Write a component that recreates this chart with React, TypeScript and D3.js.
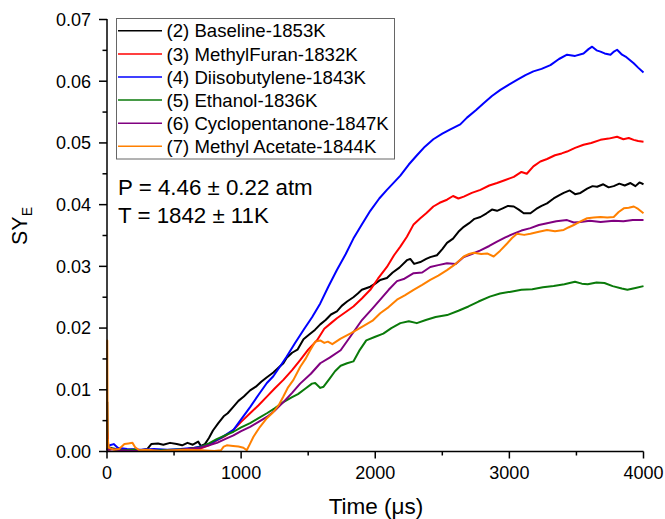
import React from "react";
import * as d3 from "d3";

type Pt = [number, number];

const seriesNames = [
  "(2) Baseline-1853K",
  "(3) MethylFuran-1832K",
  "(4) Diisobutylene-1843K",
  "(5) Ethanol-1836K",
  "(6) Cyclopentanone-1847K",
  "(7) Methyl Acetate-1844K",
];
const seriesColors = ["#000000", "#ff0000", "#0000ff", "#0a7a0a", "#800080", "#ff8000"];

const baseline: Pt[] = [[0,0.0003],[2,0.008],[6,0.0005],[30,0.0006],[60,0.0003],[100,0.0004],[150,0.0002],[200,0.0003],[250,0.0002],[300,0.0004],[330,0.0012],[380,0.0013],[420,0.0011],[470,0.0014],[520,0.0012],[560,0.0010],[600,0.0014],[640,0.0011],[680,0.0016],[700,0.0009],[730,0.0012],[760,0.0022],[790,0.0034],[830,0.0046],[870,0.0057],[900,0.0062],[940,0.0072],[980,0.0082],[1020,0.0089],[1067,0.0099],[1110,0.0105],[1150,0.0113],[1190,0.0120],[1240,0.0128],[1280,0.0136],[1315,0.0143],[1340,0.0152],[1380,0.0160],[1420,0.0165],[1465,0.0182],[1510,0.0190],[1550,0.0197],[1590,0.0206],[1630,0.0213],[1670,0.0222],[1714,0.0227],[1750,0.0236],[1790,0.0243],[1837,0.0250],[1870,0.0256],[1900,0.0262],[1963,0.0267],[2000,0.0272],[2037,0.0278],[2087,0.0281],[2130,0.0290],[2180,0.0298],[2236,0.0310],[2261,0.0312],[2290,0.0304],[2336,0.0307],[2380,0.0312],[2410,0.0315],[2460,0.0318],[2500,0.0328],[2535,0.0338],[2580,0.0345],[2620,0.0356],[2660,0.0364],[2700,0.0370],[2740,0.0377],[2784,0.0380],[2830,0.0386],[2870,0.0392],[2908,0.0390],[2950,0.0394],[2990,0.0398],[3033,0.0397],[3070,0.0392],[3107,0.0386],[3157,0.0386],[3200,0.0393],[3240,0.0398],[3281,0.0402],[3330,0.0410],[3370,0.0415],[3405,0.0419],[3450,0.0423],[3490,0.0417],[3530,0.0419],[3580,0.0426],[3620,0.0430],[3654,0.0429],[3700,0.0433],[3740,0.0428],[3778,0.0430],[3820,0.0434],[3860,0.0431],[3903,0.0435],[3940,0.0430],[3970,0.0436],[4000,0.0433]];

const methylFuran: Pt[] = [[0,0.0005],[3,0.003],[8,0.0003],[50,0.0004],[100,0.0002],[200,0.0003],[300,0.0001],[400,0.0002],[500,0.0001],[600,0.0003],[700,0.0005],[760,0.0010],[818,0.0018],[880,0.0025],[943,0.0035],[1000,0.0048],[1067,0.0062],[1130,0.0075],[1192,0.0089],[1250,0.0102],[1315,0.0116],[1380,0.0132],[1440,0.0148],[1500,0.0165],[1565,0.0180],[1620,0.0199],[1670,0.0208],[1714,0.0216],[1780,0.0226],[1837,0.0235],[1900,0.0248],[1963,0.0262],[2020,0.0280],[2087,0.0299],[2140,0.0318],[2187,0.0332],[2236,0.0348],[2286,0.0368],[2336,0.0378],[2380,0.0386],[2433,0.0397],[2480,0.0403],[2535,0.0408],[2580,0.0414],[2620,0.0410],[2660,0.0413],[2720,0.0419],[2784,0.0424],[2850,0.0431],[2908,0.0435],[2970,0.0440],[3033,0.0445],[3090,0.0453],[3130,0.0450],[3179,0.0462],[3231,0.0470],[3281,0.0474],[3340,0.0480],[3390,0.0483],[3430,0.0486],[3490,0.0492],[3553,0.0497],[3610,0.0500],[3679,0.0505],[3740,0.0507],[3803,0.0510],[3850,0.0506],[3890,0.0508],[3927,0.0505],[3960,0.0503],[4000,0.0502]];

const diisobutylene: Pt[] = [[0,0.0005],[20,0.001],[50,0.0012],[80,0.0006],[150,0.0004],[250,0.0003],[350,0.0004],[450,0.0003],[550,0.0004],[650,0.0006],[720,0.0009],[769,0.0013],[850,0.0022],[943,0.0035],[1000,0.0052],[1067,0.0072],[1130,0.0092],[1192,0.0111],[1240,0.0122],[1300,0.0141],[1340,0.0154],[1400,0.0175],[1465,0.0197],[1530,0.0218],[1590,0.0240],[1650,0.0267],[1714,0.0294],[1780,0.0320],[1837,0.0345],[1900,0.0368],[1963,0.0390],[2030,0.0410],[2087,0.0424],[2140,0.0436],[2187,0.0447],[2250,0.0465],[2311,0.0480],[2370,0.0494],[2433,0.0506],[2500,0.0515],[2560,0.0522],[2634,0.0530],[2684,0.0541],[2750,0.0553],[2806,0.0564],[2870,0.0576],[2933,0.0586],[3000,0.0595],[3057,0.0602],[3120,0.0610],[3179,0.0616],[3240,0.0620],[3306,0.0626],[3370,0.0636],[3430,0.0643],[3490,0.0641],[3553,0.0645],[3590,0.0652],[3617,0.0656],[3650,0.0650],[3679,0.0648],[3710,0.0645],[3754,0.0643],[3780,0.0648],[3803,0.0651],[3840,0.0643],[3866,0.0640],[3900,0.0634],[3927,0.0629],[3960,0.0622],[4000,0.0614]];

const ethanol: Pt[] = [[0,0.0003],[50,0.0005],[100,0.0002],[200,0.0003],[300,0.0001],[400,0.0002],[500,0.0003],[600,0.0004],[694,0.0007],[760,0.0013],[818,0.0020],[880,0.0026],[943,0.0032],[1000,0.0039],[1067,0.0046],[1130,0.0054],[1192,0.0062],[1250,0.0070],[1315,0.0080],[1380,0.0088],[1424,0.0093],[1480,0.0102],[1528,0.0110],[1552,0.0111],[1590,0.0103],[1615,0.0105],[1660,0.0118],[1700,0.0130],[1742,0.0139],[1790,0.0143],[1837,0.0146],[1880,0.0163],[1933,0.0180],[2000,0.0186],[2060,0.0191],[2120,0.0200],[2187,0.0208],[2250,0.0211],[2310,0.0208],[2377,0.0213],[2450,0.0218],[2536,0.0221],[2620,0.0228],[2695,0.0235],[2770,0.0243],[2854,0.0251],[2930,0.0256],[3012,0.0259],[3090,0.0262],[3171,0.0263],[3250,0.0266],[3330,0.0268],[3410,0.0271],[3489,0.0275],[3540,0.0272],[3584,0.0271],[3650,0.0274],[3709,0.0273],[3770,0.0268],[3838,0.0264],[3880,0.0262],[3940,0.0265],[4000,0.0268]];

const cyclopentanone: Pt[] = [[0,0.0003],[50,0.0004],[100,0.0002],[200,0.0001],[300,0.0002],[400,0.0001],[500,0.0002],[600,0.0004],[694,0.0006],[760,0.0010],[820,0.0014],[880,0.0020],[943,0.0026],[1000,0.0033],[1067,0.0040],[1130,0.0048],[1192,0.0056],[1250,0.0066],[1315,0.0080],[1380,0.0095],[1440,0.0110],[1520,0.0126],[1590,0.0143],[1660,0.0152],[1742,0.0164],[1820,0.0188],[1901,0.0213],[1980,0.0232],[2037,0.0246],[2100,0.0262],[2162,0.0276],[2218,0.0280],[2286,0.0289],[2350,0.0290],[2410,0.0299],[2470,0.0302],[2535,0.0305],[2600,0.0304],[2660,0.0315],[2720,0.0320],[2784,0.0326],[2850,0.0333],[2908,0.0340],[2970,0.0347],[3033,0.0353],[3090,0.0358],[3157,0.0362],[3220,0.0367],[3281,0.0370],[3350,0.0373],[3430,0.0375],[3480,0.0371],[3530,0.0372],[3600,0.0374],[3680,0.0372],[3778,0.0374],[3850,0.0373],[3920,0.0375],[4000,0.0375]];

const methylAcetate: Pt[] = [[0,0.0005],[2,0.018],[5,0.002],[15,0.0006],[50,0.0003],[90,0.0004],[130,0.0012],[160,0.0013],[190,0.0014],[210,0.0007],[240,0.0002],[300,0.0003],[400,0.0001],[500,0.0002],[600,0.0003],[700,0.0002],[800,0.0001],[850,0.0002],[870,0.0008],[893,0.0010],[940,0.0009],[980,0.0008],[1017,0.0006],[1042,0.0002],[1065,0.0012],[1092,0.0024],[1141,0.0040],[1192,0.0054],[1241,0.0064],[1280,0.0075],[1315,0.0089],[1350,0.0104],[1390,0.0116],[1440,0.0137],[1480,0.0150],[1515,0.0164],[1552,0.0178],[1590,0.0180],[1620,0.0176],[1647,0.0178],[1680,0.0174],[1742,0.0183],[1820,0.0192],[1901,0.0202],[1980,0.0212],[2037,0.0224],[2100,0.0234],[2162,0.0246],[2220,0.0253],[2286,0.0262],[2350,0.0270],[2410,0.0278],[2470,0.0285],[2535,0.0294],[2600,0.0304],[2660,0.0316],[2700,0.0320],[2734,0.0322],[2790,0.0320],[2834,0.0321],[2883,0.0316],[2930,0.0325],[2983,0.0337],[3020,0.0346],[3057,0.0353],[3110,0.0351],[3157,0.0353],[3220,0.0356],[3281,0.0359],[3340,0.0357],[3405,0.0359],[3440,0.0363],[3480,0.0367],[3530,0.0373],[3580,0.0378],[3630,0.0379],[3679,0.0380],[3730,0.0379],[3778,0.0380],[3815,0.0388],[3853,0.0394],[3890,0.0395],[3928,0.0397],[3960,0.0393],[4000,0.0386]];

const allSeries = [baseline, methylFuran, diisobutylene, ethanol, cyclopentanone, methylAcetate];

const xTicks = [0, 1000, 2000, 3000, 4000];
const xMinorTicks = [500, 1500, 2500, 3500];
const yTicks = [0, 0.01, 0.02, 0.03, 0.04, 0.05, 0.06, 0.07];
const yMinorTicks = [0.005, 0.015, 0.025, 0.035, 0.045, 0.055, 0.065];

const annotations = ["P = 4.46 ± 0.22 atm", "T = 1842 ± 11K"];

const FONT = "Arial, 'Liberation Sans', Helvetica, sans-serif";

export default function App() {
  const W = 665, H = 519;
  const x = d3.scaleLinear().domain([0, 4000]).range([107, 643.5]);
  const y = d3.scaleLinear().domain([0, 0.07]).range([451.5, 19.5]);
  const line = d3.line<Pt>().x(d => x(d[0])).y(d => y(d[1]));
  const x0 = x(0), y0 = y(0);

  return (
    <svg width={W} height={H} style={{ position: "absolute", left: 0, top: 0, background: "#fff" }} fontFamily={FONT}>
      <rect x={0} y={0} width={W} height={H} fill="#fff" />
      {allSeries.map((s, i) => (
        <path key={i} d={line(s) || ""} fill="none" stroke={seriesColors[i]} strokeWidth={2} strokeLinejoin="round" />
      ))}
      <line x1={x0} x2={x0} y1={y(0.07) - 0.5} y2={y0 + 0.75} stroke="#000" strokeWidth={1.5} />
      <line x1={x0 - 0.75} x2={x(4000)} y1={y0} y2={y0} stroke="#000" strokeWidth={1.5} />
      {yTicks.map(t => (
        <g key={"y" + t}>
          <line x1={x0 - 8} x2={x0} y1={y(t)} y2={y(t)} stroke="#000" strokeWidth={1.5} />
          <text x={91} y={y(t)} dy="0.35em" textAnchor="end" fontSize={18} fill="#000">{t.toFixed(2)}</text>
        </g>
      ))}
      {yMinorTicks.map(t => (
        <line key={"ym" + t} x1={x0 - 4.5} x2={x0} y1={y(t)} y2={y(t)} stroke="#000" strokeWidth={1.5} />
      ))}
      {xTicks.map(t => (
        <g key={"x" + t}>
          <line x1={x(t)} x2={x(t)} y1={y0} y2={y0 + 7} stroke="#000" strokeWidth={1.5} />
          <text x={x(t)} y={479} textAnchor="middle" fontSize={18} fill="#000">{t}</text>
        </g>
      ))}
      {xMinorTicks.map(t => (
        <line key={"xm" + t} x1={x(t)} x2={x(t)} y1={y0} y2={y0 + 4} stroke="#000" strokeWidth={1.5} />
      ))}
      <text x={376} y={514} textAnchor="middle" fontSize={22.5} fill="#000">Time (μs)</text>
      <text transform="translate(27,226) rotate(-90)" textAnchor="middle" fontSize={21.5} fill="#000">
        SY<tspan fontSize={14} dy={5}>E</tspan>
      </text>
      <rect x={116.5} y={18.5} width={278} height={140.5} fill="#fff" stroke="#666" strokeWidth={1} />
      {seriesNames.map((n, i) => {
        const cy = 30.8 + i * 23.1;
        return (
          <g key={n}>
            <line x1={118} x2={162} y1={cy} y2={cy} stroke={seriesColors[i]} strokeWidth={1.5} />
            <text x={166.5} y={cy} dy="0.36em" fontSize={18.6} fill="#000">{n}</text>
          </g>
        );
      })}
      {annotations.map((a, i) => (
        <text key={a} x={118} y={195 + i * 28.3} fontSize={22.3} fill="#000">{a}</text>
      ))}
    </svg>
  );
}
